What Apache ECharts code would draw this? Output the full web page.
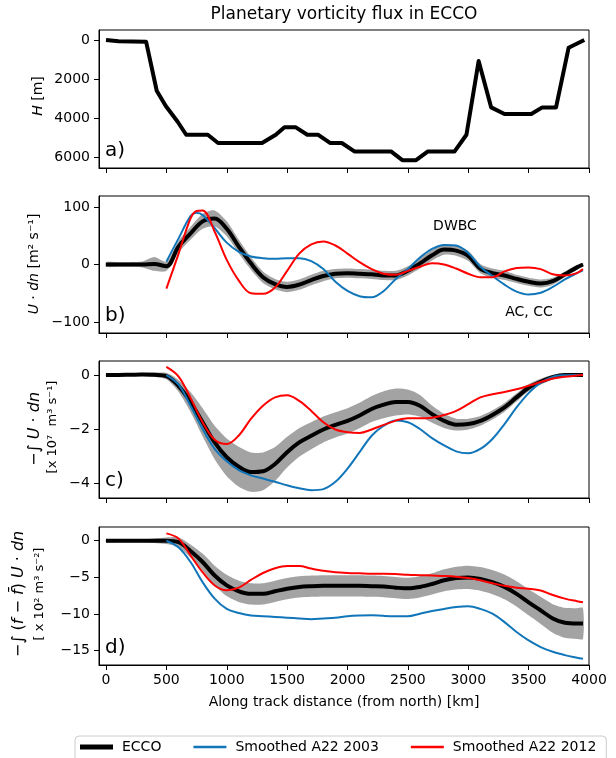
<!DOCTYPE html>
<html>
<head>
<meta charset="utf-8">
<script src="https://cdn.jsdelivr.net/npm/echarts@6/dist/echarts.min.js"></script>
<style>
  html, body { margin: 0; padding: 0; background: #fff; }
  #chart { width: 616px; height: 758px; }
</style>
</head>
<body>
<div id="chart"></div>
<script>
// ---- data ----
// a) bathymetry along track
var depthKm = [0, 104, 332, 420, 495, 592, 664, 843, 928, 1292, 1406, 1478, 1569, 1667, 1758, 1855, 1953, 2057, 2360, 2454, 2568, 2666, 2887, 2985, 3086, 3190, 3300, 3522, 3613, 3727, 3831, 3961];
var depthM = [0, 70, 85, 2600, 3380, 4170, 4850, 4850, 5270, 5270, 4850, 4460, 4460, 4850, 4850, 5270, 5270, 5700, 5700, 6150, 6150, 5700, 5700, 4850, 1080, 3450, 3790, 3790, 3450, 3450, 400, 0];

// ECCO along-track grid (b, c, d)
var eccoKm = [0, 100, 200, 300, 400, 500, 600, 700, 800, 900, 1000, 1100, 1200, 1300, 1400, 1500, 1600, 1700, 1800, 1900, 2000, 2100, 2200, 2300, 2400, 2500, 2600, 2700, 2800, 2900, 3000, 3100, 3200, 3300, 3400, 3500, 3600, 3700, 3800, 3900, 3950];
var eccoB = [0, 0, 0, 0, 1, -3, 31, 54, 75, 80, 62, 31, 2, -22, -34, -39, -35, -27, -20, -16, -15, -16, -17, -19, -19, -11, 2, 16, 26, 24, 15, -7, -15, -19, -25, -30, -33, -29, -17, -5, 0];
var spreadB = [4, 4, 4, 5, 12, 8, 10, 11, 13, 14, 13, 12, 11, 10, 9, 9, 9, 9, 9, 8, 8, 8, 8, 8, 8, 8, 9, 9, 9, 9, 9, 8, 8, 8, 7, 7, 7, 6, 5, 4, 3];
var eccoC = [0, 0, 0.01, 0.02, 0.01, -0.04, -0.4, -1.0, -1.75, -2.5, -3.05, -3.4, -3.6, -3.57, -3.3, -2.86, -2.5, -2.25, -2.02, -1.85, -1.7, -1.5, -1.26, -1.1, -1.0, -1.0, -1.14, -1.45, -1.7, -1.84, -1.82, -1.7, -1.48, -1.2, -0.83, -0.47, -0.25, -0.08, 0, 0, 0];
var spreadC = [0.05, 0.05, 0.05, 0.06, 0.08, 0.12, 0.22, 0.37, 0.52, 0.62, 0.7, 0.74, 0.73, 0.7, 0.63, 0.57, 0.53, 0.5, 0.48, 0.47, 0.47, 0.47, 0.48, 0.5, 0.5, 0.46, 0.4, 0.32, 0.26, 0.22, 0.2, 0.18, 0.17, 0.16, 0.15, 0.13, 0.11, 0.09, 0.07, 0.05, 0.05];
var eccoD = [0, 0, 0, 0, 0, 0, -0.2, -1.4, -2.9, -4.75, -6.1, -6.9, -7.25, -7.25, -6.9, -6.55, -6.3, -6.2, -6.15, -6.15, -6.15, -6.15, -6.2, -6.25, -6.4, -6.5, -6.3, -5.9, -5.4, -5.1, -5.0, -5.2, -5.65, -6.3, -7.25, -8.4, -9.5, -10.6, -11.2, -11.3, -11.3];
var spreadD = [0.2, 0.2, 0.2, 0.2, 0.3, 0.45, 0.65, 0.9, 1.15, 1.35, 1.45, 1.45, 1.45, 1.45, 1.45, 1.45, 1.45, 1.45, 1.45, 1.45, 1.45, 1.45, 1.45, 1.45, 1.45, 1.45, 1.45, 1.45, 1.5, 1.55, 1.6, 1.62, 1.65, 1.68, 1.72, 1.78, 1.85, 1.95, 2.05, 2.1, 2.1];

// b) A22 sections (finer near the first peak)
var obsBKm = [500, 600, 700, 750, 800, 900, 1000, 1100, 1200, 1300, 1400, 1500, 1600, 1700, 1800, 1900, 2000, 2100, 2200, 2300, 2400, 2500, 2600, 2700, 2800, 2900, 3000, 3100, 3200, 3300, 3400, 3500, 3600, 3700, 3800, 3900, 3950];
var a03B = [5, 45, 84, 90, 86, 63, 38, 22, 14, 11, 10, 11, 11, 6, -8, -30, -46, -55, -57, -46, -25, -8, 12, 27, 34, 33, 20, -4, -20, -35, -47, -52, -49, -39, -26, -15, -10];
var a12B = [-42, 18, 80, 93, 94, 57, 8, -28, -50, -51, -40, -11, 19, 35, 40, 33, 19, 4, -8, -16, -18, -11, -4, 2, 0, -7, -16, -22, -22, -12, -6, -5, -8, -17, -19, -15, -8];

// c) and d) A22 sections
var obsKm = [500, 600, 700, 800, 900, 1000, 1100, 1200, 1300, 1400, 1500, 1600, 1700, 1800, 1900, 2000, 2100, 2200, 2300, 2400, 2500, 2600, 2700, 2800, 2900, 3000, 3100, 3200, 3300, 3400, 3500, 3600, 3700, 3800, 3900, 3950];
var a03C = [0, -0.35, -1.14, -2.0, -2.74, -3.2, -3.53, -3.72, -3.84, -3.96, -4.09, -4.2, -4.27, -4.23, -3.96, -3.47, -2.86, -2.25, -1.88, -1.69, -1.75, -2.0, -2.34, -2.61, -2.83, -2.9, -2.74, -2.37, -1.82, -1.2, -0.67, -0.28, -0.07, -0.01, 0, 0];
var a12C = [0.3, -0.05, -0.85, -1.75, -2.4, -2.56, -2.24, -1.63, -1.14, -0.83, -0.75, -0.96, -1.33, -1.75, -2.02, -2.12, -2.15, -2.02, -1.85, -1.69, -1.6, -1.6, -1.58, -1.48, -1.33, -1.08, -0.83, -0.71, -0.63, -0.53, -0.4, -0.26, -0.13, -0.06, -0.02, 0];
var a03D = [0, -0.9, -2.9, -5.65, -7.9, -9.3, -9.85, -10.2, -10.3, -10.4, -10.5, -10.6, -10.7, -10.6, -10.5, -10.3, -10.2, -10.15, -10.25, -10.3, -10.3, -9.95, -9.6, -9.3, -9.05, -8.95, -9.3, -9.95, -11.1, -12.45, -13.6, -14.5, -15.15, -15.6, -15.95, -16.1];
var a12D = [1.0, 0.3, -2.0, -4.3, -6.1, -6.75, -6.4, -5.35, -4.4, -3.75, -3.45, -3.45, -3.8, -4.1, -4.3, -4.4, -4.45, -4.5, -4.5, -4.55, -4.65, -4.7, -4.75, -4.8, -4.9, -5.1, -5.4, -5.8, -6.15, -6.4, -6.55, -6.8, -7.4, -7.9, -8.25, -8.4];

// tick labels
var xTicks = [0, 500, 1000, 1500, 2000, 2500, 3000, 3500, 4000];
var yTicksA = [0, 2000, 4000, 6000];
var yTicksB = [-100, 0, 100];
var yTicksC = [-4, -2, 0];
var yTicksD = [-15, -10, -5, 0];

// ---- chart ----
var FONT = 'DejaVu Sans';
var BLUE = '#1176b9';
var RED = '#ff0000';
var GREY = '#a3a3a3';

function pairs(xs, ys) {
  return xs.map(function (x, i) { return [x, ys[i]]; });
}
function plain(v) {
  return String(v).replace('-', '\u2212');
}

var grids = [
  { left: 99, width: 490, top: 30, height: 138 },
  { left: 99, width: 490, top: 196, height: 137 },
  { left: 99, width: 490, top: 361, height: 137 },
  { left: 99, width: 490, top: 527, height: 138 }
].map(function (g) {
  g.show = true;
  g.borderColor = '#000';
  g.borderWidth = 1;
  g.backgroundColor = 'transparent';
  return g;
});

function xAxisFor(i, showLabels) {
  return {
    type: 'value', gridIndex: i, min: -58, max: 4000,
    axisLine: { onZero: false, lineStyle: { color: '#000', width: 1 } },
    axisTick: { length: 5, customValues: xTicks, lineStyle: { color: '#000', width: 1 } },
    axisLabel: {
      show: showLabels, customValues: xTicks, margin: 8, color: '#000',
      fontSize: 14, fontFamily: FONT, showMinLabel: true, showMaxLabel: true, formatter: plain
    },
    splitLine: { show: false }
  };
}

function yAxisFor(i, min, max, ticks, inverse) {
  return {
    type: 'value', gridIndex: i, min: min, max: max, inverse: !!inverse,
    axisLine: { onZero: false, lineStyle: { color: '#000', width: 1 } },
    axisTick: { length: 5, customValues: ticks, lineStyle: { color: '#000', width: 1 } },
    axisLabel: {
      customValues: ticks, margin: 9, color: '#000', fontSize: 14, fontFamily: FONT,
      showMinLabel: true, showMaxLabel: true, formatter: plain
    },
    splitLine: { show: false }
  };
}

// grey ECCO spread, drawn as one polygon through the axis scales
function band(i, center, spread) {
  return {
    type: 'custom', xAxisIndex: i, yAxisIndex: i, silent: true,
    data: [[0, 0]],
    renderItem: function (params, api) {
      var upper = eccoKm.map(function (x, k) { return api.coord([x, center[k] + spread[k]]); });
      var lower = eccoKm.map(function (x, k) { return api.coord([x, center[k] - spread[k]]); }).reverse();
      return {
        type: 'polygon',
        shape: { points: upper.concat(lower), smooth: 0.25 },
        style: { fill: GREY, stroke: null }
      };
    }
  };
}

function line(i, name, xs, ys, color, width, smooth) {
  return {
    type: 'line', name: name, xAxisIndex: i, yAxisIndex: i,
    smooth: smooth, symbol: 'none', silent: true,
    lineStyle: { color: color, width: width, join: 'round' },
    itemStyle: { color: color },
    data: pairs(xs, ys)
  };
}

var series = [
  line(0, 'ECCO', depthKm, depthM, '#000', 4, false),
  band(1, eccoB, spreadB),
  line(1, 'ECCO', eccoKm, eccoB, '#000', 4, 0.35),
  line(1, 'Smoothed A22 2003', obsBKm, a03B, BLUE, 2, 0.35),
  line(1, 'Smoothed A22 2012', obsBKm, a12B, RED, 2, 0.35),
  band(2, eccoC, spreadC),
  line(2, 'ECCO', eccoKm, eccoC, '#000', 4, 0.35),
  line(2, 'Smoothed A22 2003', obsKm, a03C, BLUE, 2, 0.35),
  line(2, 'Smoothed A22 2012', obsKm, a12C, RED, 2, 0.35),
  band(3, eccoD, spreadD),
  line(3, 'ECCO', eccoKm, eccoD, '#000', 4, 0.35),
  line(3, 'Smoothed A22 2003', obsKm, a03D, BLUE, 2, 0.35),
  line(3, 'Smoothed A22 2012', obsKm, a12D, RED, 2, 0.35)
];

var rich = {
  n: { fontFamily: FONT, fontSize: 14, color: '#000' },
  i: { fontFamily: FONT, fontSize: 14, fontStyle: 'italic', color: '#000' },
  N: { fontFamily: FONT, fontSize: 16, color: '#000' },
  I: { fontFamily: FONT, fontSize: 16, fontStyle: 'italic', color: '#000' },
  s: { fontFamily: FONT, fontSize: 13, color: '#000' }
};

function label(x, y, text, rotate, size) {
  return {
    type: 'text', x: x, y: y, rotation: rotate ? Math.PI / 2 : 0, silent: true, z: 100,
    style: {
      text: text, rich: rich, fontFamily: FONT, fontSize: size || 14, fill: '#000',
      align: 'center', verticalAlign: 'middle'
    }
  };
}

var graphics = [
  label(344, 15, 'Planetary vorticity flux in ECCO', false, 17),
  label(38, 96, '{i|H}{n| [m]}', true),
  label(34, 264, '{i|U}{n| · }{i|dn}{n| [m² s⁻¹]}', true),
  label(35, 429, '{N|−∫ }{I|U}{N| · }{I|dn}', true),
  label(53, 427, '{s|[x 10⁷  m³ s⁻¹]}', true),
  label(19, 594, '{N|−∫ (}{I|f}{N| − }{I|f̄}{N|) }{I|U}{N| · }{I|dn}', true),
  label(40, 594, '{s|[ x 10² m³ s⁻²]}', true),
  label(344, 702, 'Along track distance (from north) [km]', false, 14),
  label(455, 226, 'DWBC', false, 14),
  label(529, 312, 'AC, CC', false, 14)
];
['a)', 'b)', 'c)', 'd)'].forEach(function (t, k) {
  var g = grids[k];
  graphics.push({
    type: 'text', x: 105, y: g.top + g.height - 17, silent: true, z: 100,
    style: { text: t, fontFamily: FONT, fontSize: 20, fill: '#000', align: 'left', verticalAlign: 'middle' }
  });
});

var chart = echarts.init(document.getElementById('chart'), null, { renderer: 'canvas' });
chart.setOption({
  animation: false,
  backgroundColor: '#fff',
  textStyle: { fontFamily: FONT },
  grid: grids,
  xAxis: [xAxisFor(0, false), xAxisFor(1, false), xAxisFor(2, false), xAxisFor(3, true)],
  yAxis: [
    yAxisFor(0, -510, 6550, yTicksA, true),
    yAxisFor(1, -119, 119, yTicksB),
    yAxisFor(2, -4.56, 0.52, yTicksC),
    yAxisFor(3, -16.95, 1.87, yTicksD)
  ],
  legend: {
    data: [
      { name: 'ECCO', icon: 'path://M0,0L33,0L33,5L0,5Z' },
      { name: 'Smoothed A22 2003', icon: 'path://M0,0L33,0L33,2.5L0,2.5Z' },
      { name: 'Smoothed A22 2012', icon: 'path://M0,0L33,0L33,2.5L0,2.5Z' }
    ],
    left: 75, top: 736, itemWidth: 33, itemHeight: 14, itemGap: 32,
    padding: [4, 10, 10, 5], selectedMode: false,
    borderColor: '#cccccc', borderWidth: 1, borderRadius: 4, backgroundColor: '#fff',
    textStyle: { fontSize: 14, color: '#000', fontFamily: FONT, padding: [0, 0, 0, 4] }
  },
  graphic: graphics,
  series: series
});
</script>
</body>
</html>
